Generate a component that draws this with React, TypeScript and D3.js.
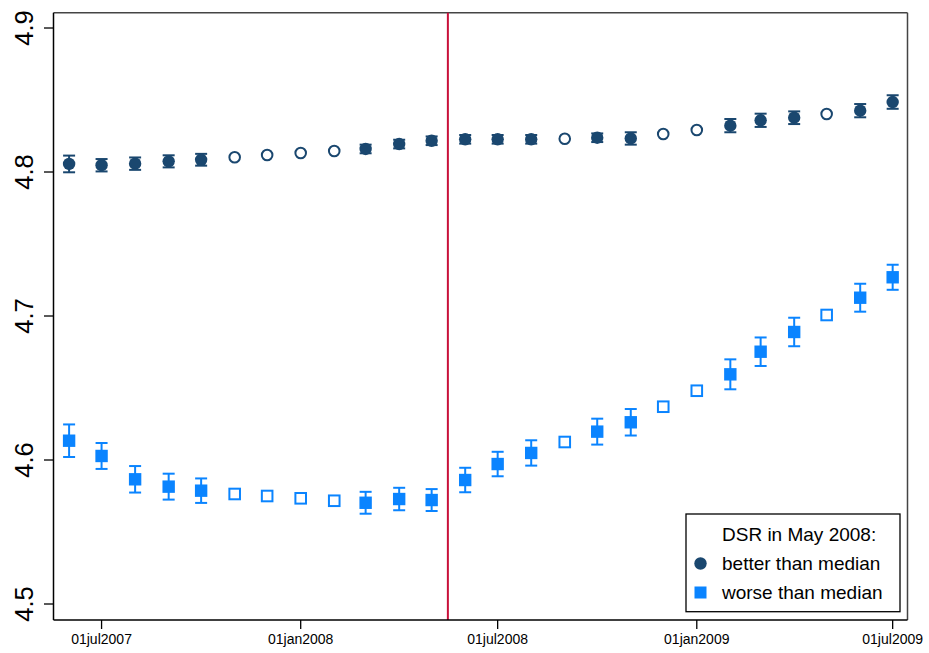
import React from "react";
import * as d3 from "d3";

// ---- data ----
const months: string[] = [
  "2007-06-01", "2007-07-01", "2007-08-01", "2007-09-01", "2007-10-01", "2007-11-01",
  "2007-12-01", "2008-01-01", "2008-02-01", "2008-03-01", "2008-04-01", "2008-05-01",
  "2008-06-01", "2008-07-01", "2008-08-01", "2008-09-01", "2008-10-01", "2008-11-01",
  "2008-12-01", "2009-01-01", "2009-02-01", "2009-03-01", "2009-04-01", "2009-05-01",
  "2009-06-01", "2009-07-01",
];
// hollow markers (no confidence interval shown)
const hollow: boolean[] = [
  false, false, false, false, false, true,
  true, true, true, false, false, false,
  false, false, false, true, false, false,
  true, true, false, false, false, true,
  false, false,
];
const betterValues: number[] = [
  4.8056, 4.8047, 4.8058, 4.8074, 4.8085, 4.8102,
  4.8118, 4.8132, 4.8146, 4.8160, 4.8194, 4.8217,
  4.8227, 4.8227, 4.8227, 4.8231, 4.8238, 4.8233,
  4.8264, 4.8292, 4.8322, 4.8359, 4.8377, 4.8403,
  4.8426, 4.8486,
];
const betterErr: number[] = [
  0.0058, 0.0043, 0.0043, 0.0042, 0.0041, 0,
  0, 0, 0, 0.003, 0.003, 0.003,
  0.003, 0.003, 0.003, 0, 0.003, 0.0043,
  0, 0, 0.0046, 0.0046, 0.0044, 0,
  0.0046, 0.0047,
];
const worseValues: number[] = [
  4.6134, 4.6028, 4.5866, 4.5815, 4.5787, 4.5764,
  4.5750, 4.5734, 4.5717, 4.5703, 4.5729, 4.5722,
  4.5861, 4.5972, 4.6049, 4.6125, 4.6197, 4.6262,
  4.6370, 4.6481, 4.6595, 4.6752, 4.6889, 4.7007,
  4.7127, 4.7269,
];
const worseErr: number[] = [
  0.0113, 0.0090, 0.0092, 0.0090, 0.0085, 0,
  0, 0, 0, 0.0076, 0.0078, 0.0076,
  0.0085, 0.0085, 0.0088, 0, 0.0090, 0.0092,
  0, 0, 0.0104, 0.0099, 0.0099, 0,
  0.0097, 0.0087,
];
const yTicks: number[] = [4.5, 4.6, 4.7, 4.8, 4.9];
const xTicks: string[] = ["2007-07-01", "2008-01-01", "2008-07-01", "2009-01-01", "2009-07-01"];
const eventDate = "2008-05-16";
const legendTitle = "DSR in May 2008:";
const legendLabels: string[] = ["better than median", "worse than median"];

const NAVY = "#1a476f";
const BLUE = "#0a84ff";
const RED = "#c8103a";
const FONT = "'Liberation Sans', Arial, Helvetica, sans-serif";

const parse = d3.utcParse("%Y-%m-%d");
const fmt = d3.utcFormat("%d%b%Y");

export default function App() {
  const W = 929, H = 653;
  const left = 53.5, right = 907.5, top = 12.7, bottom = 620;

  const x = d3
    .scaleUtc()
    .domain([new Date(Date.UTC(2007, 4, 17, 14)), new Date(Date.UTC(2009, 6, 14, 17))])
    .range([left, right]);
  const y = d3.scaleLinear().domain([4.48889, 4.91063]).range([bottom, top]);

  const dates = months.map((m) => parse(m) as Date);
  const capW = 6;

  const errBars = (vals: number[], errs: number[], color: string) =>
    vals.map((v, i) =>
      hollow[i] || !errs[i] ? null : (
        <g key={"e" + i} stroke={color} strokeWidth={2}>
          <line x1={x(dates[i])} x2={x(dates[i])} y1={y(v - errs[i])} y2={y(v + errs[i])} />
          <line x1={x(dates[i]) - capW} x2={x(dates[i]) + capW} y1={y(v - errs[i])} y2={y(v - errs[i])} />
          <line x1={x(dates[i]) - capW} x2={x(dates[i]) + capW} y1={y(v + errs[i])} y2={y(v + errs[i])} />
        </g>
      )
    );

  return (
    <svg
      width={W}
      height={H}
      style={{ position: "absolute", left: 0, top: 0, background: "#fff" }}
      fontFamily={FONT}
    >
      <rect x={0} y={0} width={W} height={H} fill="#fff" />

      {/* frame */}
      <line x1={left} x2={right} y1={top} y2={top} stroke="#444" strokeWidth={1.5} />
      <line x1={right} x2={right} y1={top} y2={bottom} stroke="#444" strokeWidth={1.5} />

      {/* event line */}
      <line
        x1={x(parse(eventDate) as Date)}
        x2={x(parse(eventDate) as Date)}
        y1={top}
        y2={bottom}
        stroke={RED}
        strokeWidth={2}
      />

      {/* error bars */}
      {errBars(betterValues, betterErr, NAVY)}
      {errBars(worseValues, worseErr, BLUE)}

      {/* markers: better */}
      {betterValues.map((v, i) =>
        hollow[i] ? (
          <circle key={"b" + i} cx={x(dates[i])} cy={y(v)} r={5.3} fill="#fff" stroke={NAVY} strokeWidth={2} />
        ) : (
          <circle key={"b" + i} cx={x(dates[i])} cy={y(v)} r={6.2} fill={NAVY} />
        )
      )}
      {/* markers: worse */}
      {worseValues.map((v, i) =>
        hollow[i] ? (
          <rect key={"w" + i} x={x(dates[i]) - 5.3} y={y(v) - 5.3} width={10.6} height={10.6} fill="#fff" stroke={BLUE} strokeWidth={2} />
        ) : (
          <rect key={"w" + i} x={x(dates[i]) - 6.2} y={y(v) - 6.2} width={12.4} height={12.4} fill={BLUE} />
        )
      )}

      {/* axes */}
      <line x1={left} x2={left} y1={top} y2={bottom} stroke="#000" strokeWidth={1.5} />
      <line x1={left} x2={right} y1={bottom} y2={bottom} stroke="#000" strokeWidth={1.5} />
      {yTicks.map((t) => (
        <g key={"yt" + t}>
          <line x1={left - 9.5} x2={left} y1={y(t)} y2={y(t)} stroke="#000" strokeWidth={1.3} />
          <text
            transform={`translate(33,${y(t)}) rotate(-90)`}
            textAnchor="middle"
            fontSize={25.5}
            fill="#000"
          >
            {d3.format(".1f")(t)}
          </text>
        </g>
      ))}
      {xTicks.map((t) => {
        const d = parse(t) as Date;
        return (
          <g key={"xt" + t}>
            <line x1={x(d)} x2={x(d)} y1={bottom} y2={bottom + 9} stroke="#000" strokeWidth={1.3} />
            <text x={x(d)} y={644} textAnchor="middle" fontSize={14} fill="#000">
              {fmt(d).toLowerCase()}
            </text>
          </g>
        );
      })}

      {/* legend */}
      <rect x={686} y={514} width={214} height={97.7} fill="#fff" stroke="#000" strokeWidth={1.3} />
      <text x={722} y={540.7} fontSize={19} fill="#000">{legendTitle}</text>
      <circle cx={700.5} cy={563.5} r={6.2} fill={NAVY} />
      <text x={722} y={569.5} fontSize={19} fill="#000">{legendLabels[0]}</text>
      <rect x={694.5} y={586.5} width={12} height={12} fill={BLUE} />
      <text x={722} y={598.5} fontSize={19} fill="#000">{legendLabels[1]}</text>
    </svg>
  );
}
